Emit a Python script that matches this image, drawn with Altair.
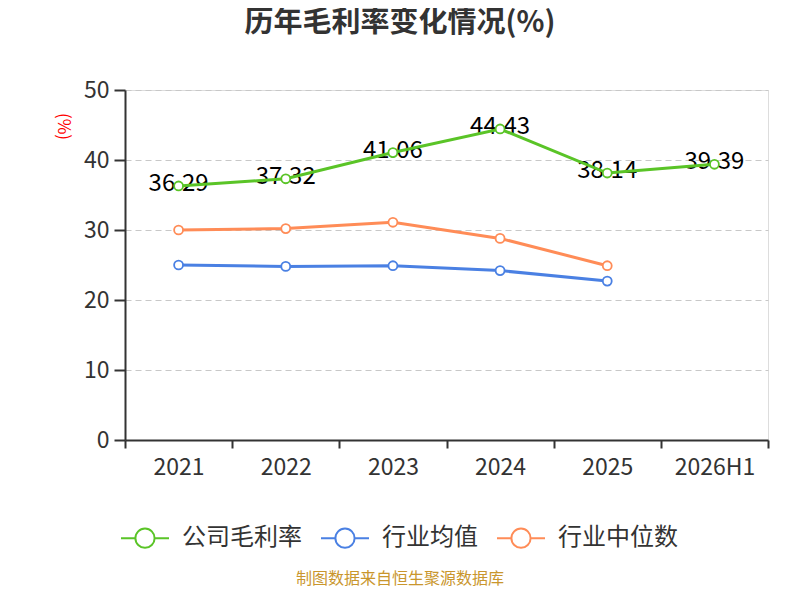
import altair as alt
import pandas as pd

years = ["2021", "2022", "2023", "2024", "2025", "2026H1"]
company = [36.29, 37.32, 41.06, 44.43, 38.14, 39.39]
industry_avg = [25.0, 24.8, 24.9, 24.2, 22.7]
industry_median = [30.0, 30.2, 31.1, 28.8, 24.9]
series_names = ["公司毛利率", "行业均值", "行业中位数"]
colors = ["#5ac427", "#4a80e3", "#ff8c57"]
title_text = "历年毛利率变化情况(%)"
source_text = "制图数据来自恒生聚源数据库"

rows = []
for y, v in zip(years, company):
    rows.append({"year": y, "value": v, "series": series_names[0], "label": f"{v:.2f}"})
for y, v in zip(years, industry_avg):
    rows.append({"year": y, "value": v, "series": series_names[1], "label": ""})
for y, v in zip(years, industry_median):
    rows.append({"year": y, "value": v, "series": series_names[2], "label": ""})
df = pd.DataFrame(rows)

FONT = "Noto Sans CJK SC"

x = alt.X("year:N", sort=years, scale=alt.Scale(paddingInner=0, paddingOuter=0),
          axis=alt.Axis(title=None, labelAngle=0, labelFontSize=23, labelColor="#333333",
                        labelFont=FONT, tickBand="extent", tickSize=8, tickColor="#333333",
                        domainColor="#333333", domainWidth=2, tickWidth=2, labelPadding=8,
                        grid=False))
y = alt.Y("value:Q", scale=alt.Scale(domain=[0, 50], nice=False),
          axis=alt.Axis(title="(%)", titleColor="#ff0000", titleFontSize=17, titleFont=FONT,
                        titleFontWeight="normal", titleAngle=90, titleX=-63, titleY=36,
                        titleAlign="center", titleBaseline="middle",
                        values=[0, 10, 20, 30, 40, 50], labelFontSize=23,
                        labelColor="#333333", labelFont=FONT, tickSize=11, tickColor="#333333",
                        domainColor="#333333", domainWidth=2, tickWidth=2, labelPadding=5,
                        grid=True, gridDash=[6, 4], gridColor="#c8c8c8", gridWidth=1.2))

color = alt.Color("series:N", scale=alt.Scale(domain=series_names, range=colors),
                  legend=alt.Legend(title=None, orient="none", direction="horizontal",
                                    legendX=-5, legendY=423, labelFontSize=24, labelFont=FONT,
                                    labelColor="#333333", symbolType="M-1,0L-0.4,0M0.4,0L1,0M-0.4,0A0.4,0.4,0,1,1,0.4,0A0.4,0.4,0,1,1,-0.4,0",
                                    symbolSize=2304, symbolStrokeWidth=2, symbolFillColor="white",
                                    symbolOpacity=1, labelOffset=12, columnPadding=15))

base = alt.Chart(df)

labels = base.transform_filter(alt.datum.label != "").mark_text(
    fontSize=24, font=FONT, color="#000000", baseline="middle", dy=-2
).encode(x=x, y=y, text="label:N")

lines = base.mark_line(strokeWidth=3).encode(x=x, y=y, color=color)
points = base.mark_point(shape="circle", filled=True, fill="white", size=80, strokeWidth=1.8,
                         opacity=1).encode(
    x=x, y=y, stroke=alt.Stroke("series:N", scale=alt.Scale(domain=series_names, range=colors), legend=None))

title = alt.Chart(pd.DataFrame({"t": [title_text]})).mark_text(
    fontSize=29, font=FONT, fontWeight="bold", color="#333333", align="center", baseline="middle"
).encode(x=alt.value(275), y=alt.value(-67), text="t:N")

source = alt.Chart(pd.DataFrame({"t": [source_text]})).mark_text(
    fontSize=16, font=FONT, color="#c9962d", align="center", baseline="middle"
).encode(x=alt.value(275), y=alt.value(489), text="t:N")

chart = alt.layer(labels, lines, points, title, source).properties(
    width=643, height=350,
    autosize=alt.AutoSizeParams(type="none"),
    padding={"left": 117, "top": 82, "right": 24, "bottom": 152},
).configure_view(stroke=None).configure(background="white")

chart.save("out.html", embed_options={"renderer": "svg", "actions": False})
